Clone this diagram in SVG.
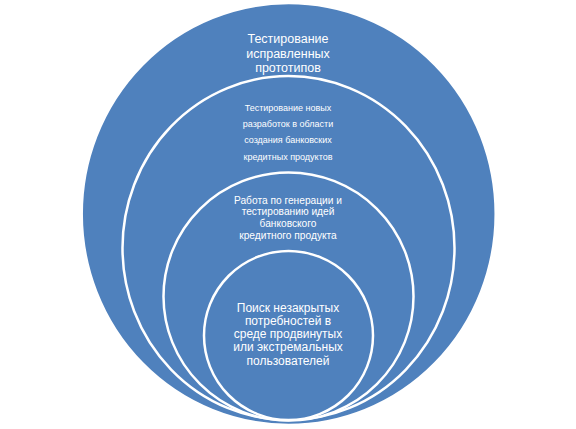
<svg xmlns="http://www.w3.org/2000/svg" width="576" height="429" viewBox="0 0 576 429">
<style>
.c{fill:#4F81BD;stroke:#FFFFFF;stroke-width:2.5}
.t{fill:#FFFFFF;font-family:"Liberation Sans","Noto Sans",sans-serif;text-anchor:middle}
.l{font-size:12.5px}
.k{font-size:12px}
.s{font-size:9px}
.m{font-size:10.2px}
</style>
<rect width="576" height="429" fill="#FFFFFF"/>
<g id="connectors"></g>
<g id="n1">
<ellipse class="c" cx="288.7" cy="214" rx="207" ry="211"/>
<text class="t l" x="288" y="42.5">Тестирование</text>
<text class="t l" x="288" y="57.5">исправленных</text>
<text class="t l" x="288" y="71.5">прототипов</text>
</g>
<g id="n2">
<ellipse class="c" cx="288.5" cy="248" rx="166" ry="172"/>
<text class="t s" x="288" y="111">Тестирование новых</text>
<text class="t s" x="288" y="127">разработок в области</text>
<text class="t s" x="288" y="143">создания банковских</text>
<text class="t s" x="288" y="160">кредитных продуктов</text>
</g>
<g id="n3">
<ellipse class="c" cx="288.5" cy="296.5" rx="125" ry="124"/>
<text class="t m" x="288" y="203.5">Работа по генерации и</text>
<text class="t m" x="288" y="215.3">тестированию идей</text>
<text class="t m" x="288" y="227">банковского</text>
<text class="t m" x="288" y="238.8">кредитного продукта</text>
</g>
<g id="n4">
<ellipse class="c" cx="288.5" cy="335.5" rx="84.5" ry="84.5"/>
<text class="t k" x="288" y="311.5">Поиск незакрытых</text>
<text class="t k" x="288" y="324.8">потребностей в</text>
<text class="t k" x="288" y="338">среде продвинутых</text>
<text class="t k" x="288" y="351.3">или  экстремальных</text>
<text class="t k" x="288" y="364.5">пользователей</text>
</g>
</svg>
